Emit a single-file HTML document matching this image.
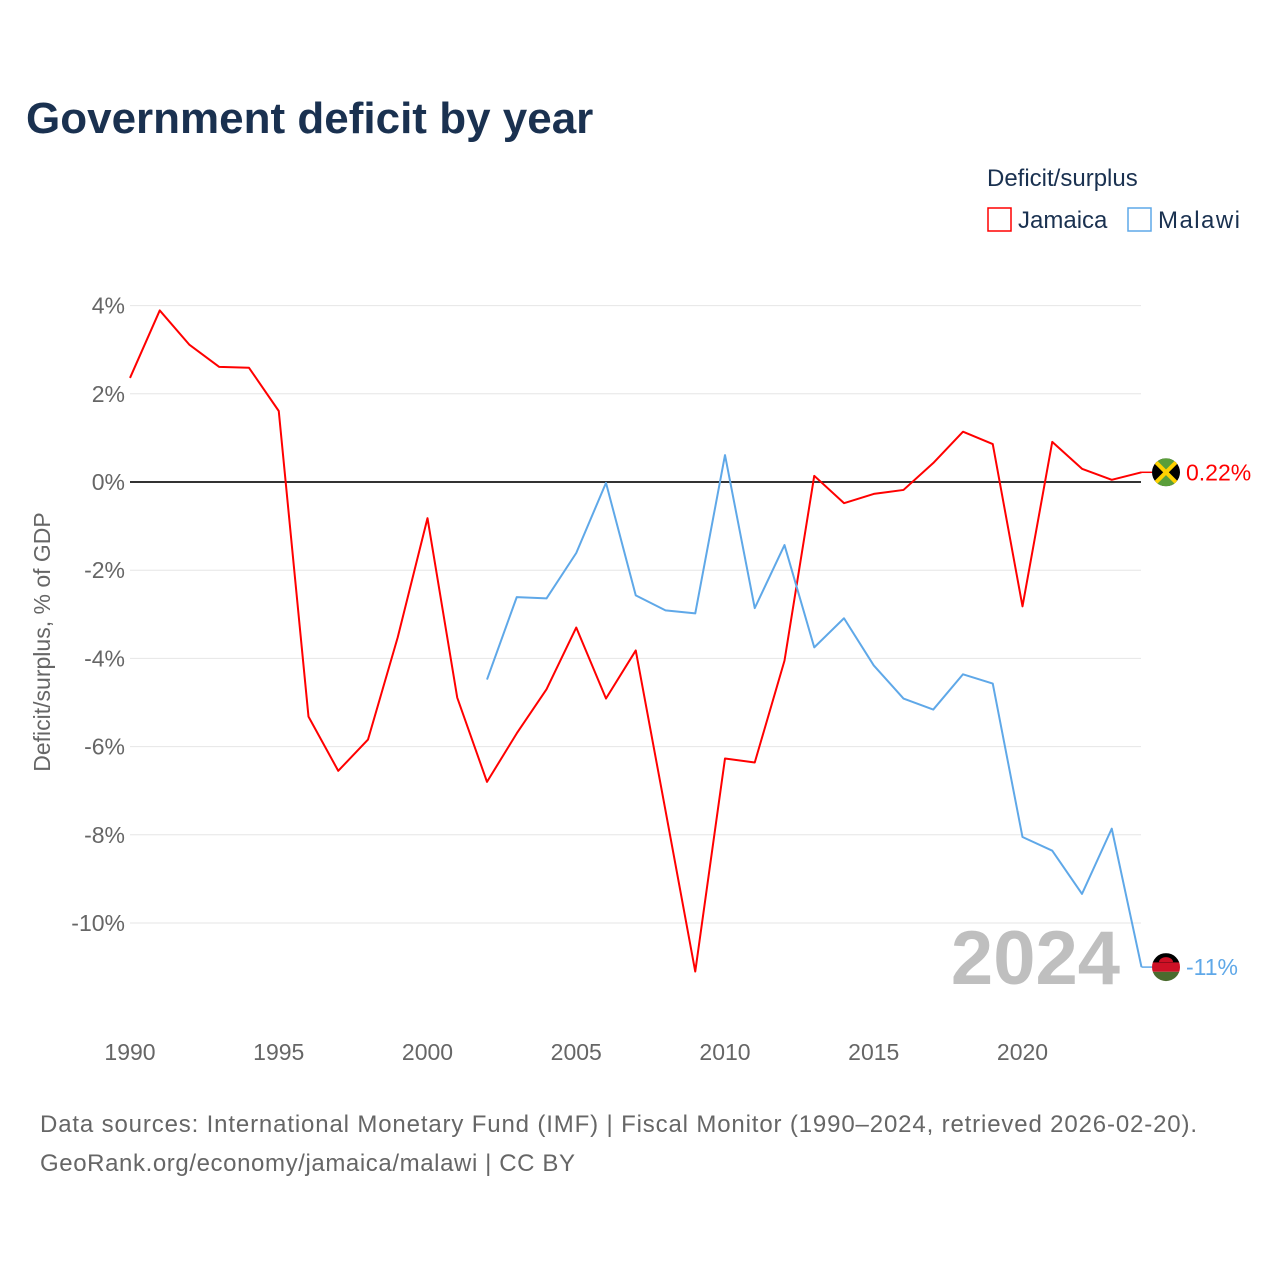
<!DOCTYPE html>
<html><head><meta charset="utf-8"><style>
body{margin:0;background:#fff;width:1280px;height:1280px;overflow:hidden;font-family:"Liberation Sans",sans-serif}
</style></head><body>
<svg id="chart" width="1280" height="1280" xmlns="http://www.w3.org/2000/svg" font-family="Liberation Sans, sans-serif">
<text x="26" y="133" font-size="44" font-weight="bold" fill="#1a3150">Government deficit by year</text>
<text x="987" y="186" font-size="24" fill="#1a3150">Deficit/surplus</text>
<g><rect x="988" y="208" width="23" height="23" fill="none" stroke="#ff0000" stroke-width="1.5"/><text x="1018" y="228" font-size="24" fill="#1a3150">Jamaica</text></g>
<g><rect x="1128" y="208" width="23" height="23" fill="none" stroke="#5fa8e8" stroke-width="1.5"/><text x="1158" y="228" font-size="24" fill="#1a3150" textLength="82">Malawi</text></g>
<text transform="translate(50,642) rotate(-90)" text-anchor="middle" font-size="23" fill="#666">Deficit/surplus, % of GDP</text>
<g id="grid"></g><g id="series"></g>
<text x="1120" y="984" text-anchor="end" font-size="76" font-weight="bold" fill="#bfbfbf">2024</text>
<text x="40" y="1132" font-size="24" fill="#666" textLength="1157">Data sources: International Monetary Fund (IMF) | Fiscal Monitor (1990–2024, retrieved 2026-02-20).</text>
<text x="40" y="1171" font-size="24" fill="#666" textLength="535">GeoRank.org/economy/jamaica/malawi | CC BY</text>
</svg>
<script>
const years=[];for(let y=1990;y<=2024;y++)years.push(y);
const jamaica=[2.36,3.89,3.11,2.61,2.59,1.61,-5.32,-6.55,-5.84,-3.52,-0.82,-4.89,-6.8,-5.7,-4.7,-3.3,-4.91,-3.82,-7.45,-11.1,-6.27,-6.36,-4.05,0.14,-0.48,-0.27,-0.18,0.43,1.14,0.86,-2.82,0.91,0.3,0.05,0.22];
const malawiYears=[2002,2003,2004,2005,2006,2007,2008,2009,2010,2011,2012,2013,2014,2015,2016,2017,2018,2019,2020,2021,2022,2023,2024];
const malawi=[-4.48,-2.61,-2.64,-1.61,-0.02,-2.57,-2.91,-2.98,0.61,-2.86,-1.43,-3.75,-3.09,-4.16,-4.91,-5.16,-4.36,-4.57,-8.05,-8.36,-9.34,-7.86,-11.0];
const yTicks=[4,2,0,-2,-4,-6,-8,-10];
const yTickLabels=["4%","2%","0%","-2%","-4%","-6%","-8%","-10%"];
const xTicks=[1990,1995,2000,2005,2010,2015,2020];
const NS="http://www.w3.org/2000/svg";
const X=y=>130+(y-1990)*29.75, Y=v=>482-v*44.1;
function mk(t,a,p){const e=document.createElementNS(NS,t);for(const k in a)e.setAttribute(k,a[k]);p.appendChild(e);return e;}
const g=document.getElementById('grid'),s=document.getElementById('series');
yTicks.forEach((v,i)=>{
 const l=mk('line',{x1:130,x2:1141,y1:Y(v),y2:Y(v),stroke:v===0?'#333':'#e6e6e6','stroke-width':v===0?2:1},g);
 
 
 const t=mk('text',{x:125,y:Y(v)+8,'text-anchor':'end','font-size':23,fill:'#666'},g);t.textContent=yTickLabels[i];
 
 
});
xTicks.forEach(v=>{const t=mk('text',{x:X(v),y:1060,'text-anchor':'middle','font-size':23,fill:'#666'},g);t.textContent=v;
 
 });
function line(xs,vs,c,name){const p=mk('polyline',{points:xs.map((x,i)=>X(x)+','+Y(vs[i])).join(' '),fill:'none',stroke:c,'stroke-width':2,'stroke-linejoin':'round'},s);
 
 }
line(years,jamaica,'#ff0000','jamaica-line');
line(malawiYears,malawi,'#5fa8e8','malawi-line');
const jv=jamaica[jamaica.length-1],mv=malawi[malawi.length-1];
mk('line',{x1:X(2024),x2:1152,y1:Y(jv),y2:Y(jv),stroke:'#ff0000','stroke-width':1.5},s);
mk('line',{x1:X(2024),x2:1152,y1:Y(mv),y2:Y(mv),stroke:'#5fa8e8','stroke-width':1.5},s);
const jf=mk('g',{},s);
const jy=Y(jv);
mk('clipPath',{id:'cj'},jf);mk('circle',{cx:1166,cy:jy,r:14},document.getElementById('cj'));
const jg=mk('g',{'clip-path':'url(#cj)'},jf);
mk('rect',{x:1152,y:jy-14,width:28,height:28,fill:'#000'},jg);
mk('polygon',{points:`1152,${jy-14} 1180,${jy-14} 1166,${jy}`,fill:'#5a9e3a'},jg);
mk('polygon',{points:`1152,${jy+14} 1180,${jy+14} 1166,${jy}`,fill:'#5a9e3a'},jg);
mk('line',{x1:1152,y1:jy-14,x2:1180,y2:jy+14,stroke:'#fed100','stroke-width':4},jg);
mk('line',{x1:1180,y1:jy-14,x2:1152,y2:jy+14,stroke:'#fed100','stroke-width':4},jg);
const jt=mk('text',{x:1186,y:jy+8,'font-size':23,fill:'#ff0000'},s);jt.textContent=jv+'%';

const mf=mk('g',{},s);
const my=Y(mv);
mk('clipPath',{id:'cm'},mf);mk('circle',{cx:1166,cy:my,r:14},document.getElementById('cm'));
const mg=mk('g',{'clip-path':'url(#cm)'},mf);
mk('rect',{x:1152,y:my-14,width:28,height:10,fill:'#000'},mg);
mk('rect',{x:1152,y:my-4.7,width:28,height:9.4,fill:'#ce1126'},mg);
mk('rect',{x:1152,y:my+4.7,width:28,height:10,fill:'#4a6b2e'},mg);
mk('path',{d:`M1159,${my-5} A7,5 0 0 1 1173,${my-5}Z`,fill:'#ce1126'},mg);
const mt=mk('text',{x:1186,y:my+8,'font-size':23,fill:'#5fa8e8'},s);mt.textContent=Math.round(mv)+'%';

</script>
</body></html>
